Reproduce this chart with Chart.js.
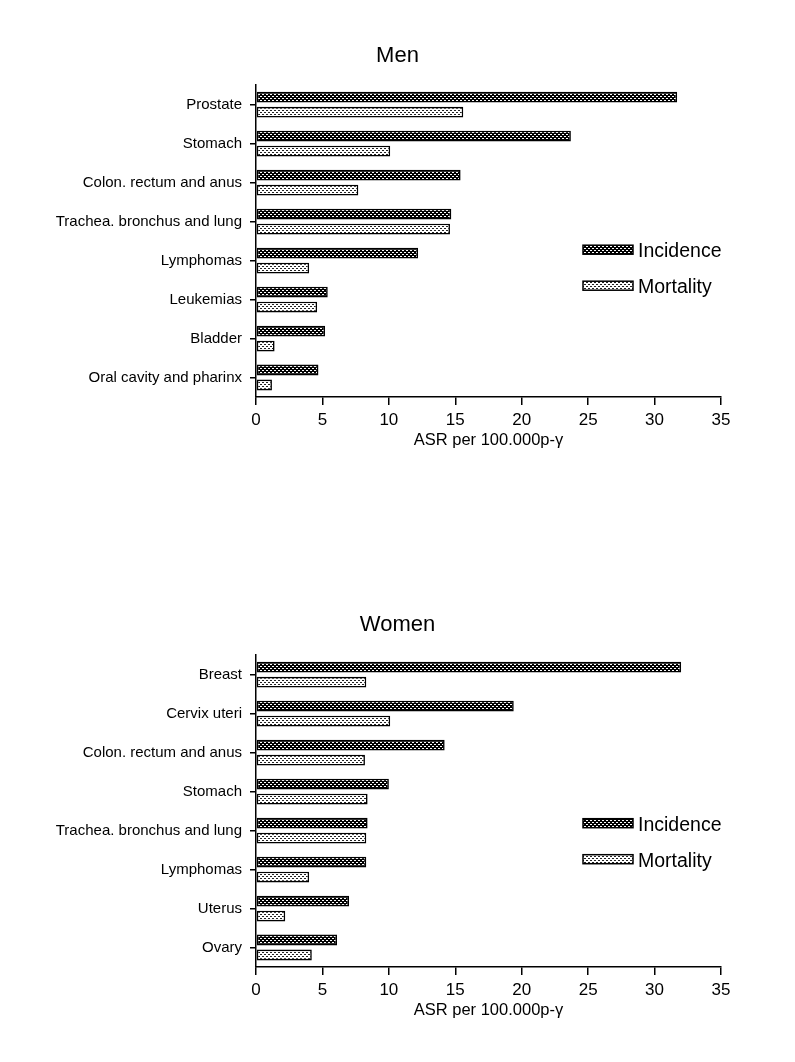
<!DOCTYPE html>
<html>
<head>
<meta charset="utf-8">
<script src="https://cdn.jsdelivr.net/npm/chart.js@4.4.1/dist/chart.umd.min.js"></script>
<style>
	body { margin: 0; background: #fff; }
	.chart-box { position: absolute; left: 0; width: 795px; height: 470px; }
	.chart-title {
		position: absolute; left: 0; width: 795px; text-align: center;
		font: 22px "Liberation Sans", Arial, Helvetica, sans-serif; line-height: 26px; color: #000;
	}
</style>
</head>
<body>
<div class="chart-box" style="top:0"><canvas id="menChart" width="795" height="470"></canvas></div>
<div class="chart-box" style="top:570px"><canvas id="womenChart" width="795" height="470"></canvas></div>
<div class="chart-title" id="menTitle" style="top:42px"></div>
<div class="chart-title" id="womenTitle" style="top:611px"></div>
<script>
const seriesLabels = ['Incidence', 'Mortality'];
const menCategories = ['Prostate', 'Stomach', 'Colon. rectum and anus', 'Trachea. bronchus and lung', 'Lymphomas', 'Leukemias', 'Bladder', 'Oral cavity and pharinx'];
const menIncidence = [31.7, 23.7, 15.4, 14.7, 12.2, 5.4, 5.2, 4.7];
const menMortality = [15.6, 10.1, 7.7, 14.6, 4.0, 4.6, 1.4, 1.2];
const womenCategories = ['Breast', 'Cervix uteri', 'Colon. rectum and anus', 'Stomach', 'Trachea. bronchus and lung', 'Lymphomas', 'Uterus', 'Ovary'];
const womenIncidence = [32.0, 19.4, 14.2, 10.0, 8.4, 8.3, 7.0, 6.1];
const womenMortality = [8.3, 10.1, 8.2, 8.4, 8.3, 4.0, 2.2, 4.2];
const xMax = 35;
const xStep = 5;
const axisTitle = 'ASR per 100.000p-\u03b3';

const fontFamily = '"Liberation Sans", Arial, Helvetica, sans-serif';

// small tiled fills for the two series
function makePattern(size, bg, fg, cells) {
	const c = document.createElement('canvas');
	c.width = size;
	c.height = size;
	const g = c.getContext('2d');
	g.fillStyle = bg;
	g.fillRect(0, 0, size, size);
	g.fillStyle = fg;
	cells.forEach(function(p) { g.fillRect(p[0], p[1], p[2] || 1, p[3] || 1); });
	return g.createPattern(c, 'repeat');
}
const checkerFill = makePattern(4, '#000', '#fff', [[0, 0, 2, 1], [2, 2, 2, 1]]);
const dotFill = makePattern(4, '#fff', '#222', [[0, 0, 2, 1], [2, 2, 2, 1]]);

// legend drawn inside the plot area, right side
const patternLegend = {
	id: 'patternLegend',
	afterDraw(chart, args, opts) {
		const ctx = chart.ctx;
		const area = chart.chartArea;
		ctx.save();
		chart.data.datasets.forEach(function(ds, i) {
			const x = area.left + opts.offsetX;
			const y = area.top + opts.offsetY + i * opts.rowGap;
			ctx.fillStyle = ds.backgroundColor;
			ctx.fillRect(x, y - 4.5, 50, 9);
			ctx.strokeStyle = '#000';
			ctx.lineWidth = 1.5;
			ctx.strokeRect(x, y - 4.5, 50, 9);
			ctx.fillStyle = '#000';
			ctx.font = '19.5px ' + fontFamily;
			ctx.textBaseline = 'middle';
			ctx.textAlign = 'left';
			ctx.fillText(ds.label, x + 55, y + 2);
		});
		ctx.restore();
	}
};

function buildChart(id, titleId, title, categories, incidence, mortality, legendTop) {
	document.getElementById(titleId).textContent = title;
	const ctx = document.getElementById(id).getContext('2d');
	return new Chart(ctx, {
		type: 'bar',
		data: {
			labels: categories,
			datasets: [{
				label: seriesLabels[0],
				data: incidence,
				backgroundColor: checkerFill,
				borderColor: '#000',
				borderWidth: 1.6,
				borderSkipped: false
			}, {
				label: seriesLabels[1],
				data: mortality,
				backgroundColor: dotFill,
				borderColor: '#000',
				borderWidth: 1.6,
				borderSkipped: false
			}]
		},
		options: {
			indexAxis: 'y',
			responsive: false,
			animation: false,
			devicePixelRatio: 1,
			categoryPercentage: 0.77,
			barPercentage: 0.72,
			layout: { padding: { left: 0, right: 74, top: 85.2, bottom: 20 } },
			scales: {
				x: {
					min: 0,
					max: xMax,
					ticks: { stepSize: xStep, color: '#000', padding: 5, font: { family: fontFamily, size: 17 } },
					grid: { drawOnChartArea: false, drawTicks: true, tickLength: 8, color: '#000', lineWidth: 1.5 },
					border: { display: true, color: '#000', width: 1.5 },
					title: { display: true, text: axisTitle, color: '#000', padding: { top: 0, bottom: 0 }, font: { family: fontFamily, size: 16.5 } },
					afterFit: function(s) { s.height = 53; }
				},
				y: {
					ticks: { color: '#000', padding: 8, font: { family: fontFamily, size: 15 } },
					grid: { offset: false, drawOnChartArea: false, drawTicks: true, tickLength: 6, color: '#000', lineWidth: 1.5 },
					border: { display: true, color: '#000', width: 1.5 },
					afterFit: function(s) { s.width = 256; }
				}
			},
			plugins: {
				legend: { display: false },
				tooltip: { enabled: false },
				title: { display: false },
				patternLegend: { offsetX: 327, offsetY: legendTop, rowGap: 36 }
			}
		},
		plugins: [patternLegend]
	});
}

buildChart('menChart', 'menTitle', 'Men', menCategories, menIncidence, menMortality, 164.5);
buildChart('womenChart', 'womenTitle', 'Women', womenCategories, womenIncidence, womenMortality, 168);
</script>
</body>
</html>
